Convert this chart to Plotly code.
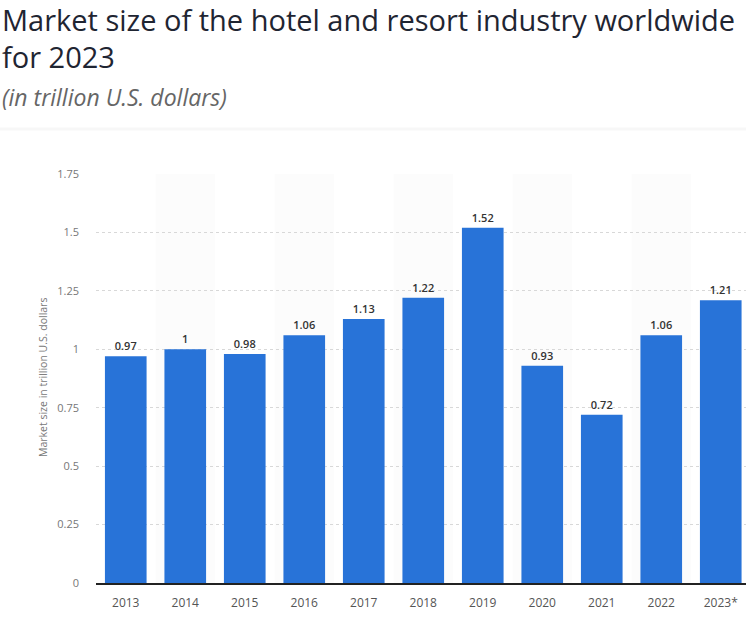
import plotly.graph_objects as go

years = ["2013", "2014", "2015", "2016", "2017", "2018", "2019", "2020", "2021", "2022", "2023*"]
market_size = [0.97, 1.00, 0.98, 1.06, 1.13, 1.22, 1.52, 0.93, 0.72, 1.06, 1.21]
value_labels = ["0.97", "1", "0.98", "1.06", "1.13", "1.22", "1.52", "0.93", "0.72", "1.06", "1.21"]
y_tickvals = [0, 0.25, 0.5, 0.75, 1, 1.25, 1.5, 1.75]
y_ticktext = ["0", "0.25", "0.5", "0.75", "1", "1.25", "1.5", "1.75"]

W, H = 746, 619
ML, MR, MT, MB = 96, 0, 174, 36
PW, PH = W - ML - MR, H - MT - MB

def px_x(p):
    return (p - ML) / PW

def px_y(p):
    return (H - MB - p) / PH

FONT = "Open Sans"

fig = go.Figure()
fig.add_trace(go.Bar(
    x=list(range(len(years))),
    y=market_size,
    marker=dict(color="#2873d8", line=dict(width=0)),
    text=value_labels,
    textposition="outside",
    textfont=dict(family=FONT, size=11, color="#333333", weight=600),
    cliponaxis=False,
    hoverinfo="skip",
))

shapes = []
for i in range(len(years)):
    if i % 2 == 1:
        shapes.append(dict(type="rect", xref="x", yref="y", x0=i - 0.5, x1=i + 0.5,
                           y0=0, y1=y_tickvals[-1], fillcolor="rgba(0,0,0,0.01)",
                           line=dict(width=0), layer="below"))
shapes.append(dict(type="line", xref="paper", yref="paper", x0=px_x(0), x1=px_x(W),
                   y0=px_y(129), y1=px_y(129), line=dict(color="rgba(0,0,0,0.03)", width=3)))

annotations = [
    dict(text="Market size of the hotel and resort industry worldwide", xref="paper", yref="paper",
         x=px_x(0), y=px_y(19), xanchor="left", yanchor="middle", showarrow=False,
         font=dict(family=FONT, size=29, color="#1f2532", weight=500)),
    dict(text="for 2023", xref="paper", yref="paper",
         x=px_x(0), y=px_y(57), xanchor="left", yanchor="middle", showarrow=False,
         font=dict(family=FONT, size=29, color="#1f2532", weight=500)),
    dict(text="<i>(in trillion U.S. dollars)</i>", xref="paper", yref="paper",
         x=px_x(0), y=px_y(97), xanchor="left", yanchor="middle", showarrow=False,
         font=dict(family=FONT, size=23, color="#666666")),
    dict(text="Market size in trillion U.S. dollars", xref="paper", yref="paper",
         x=px_x(43), y=px_y(378), xanchor="center", yanchor="middle", showarrow=False,
         textangle=-90, font=dict(family=FONT, size=10.5, color="#777777")),
]

fig.update_layout(
    width=W, height=H,
    margin=dict(l=ML, r=MR, t=MT, b=MB, pad=0),
    paper_bgcolor="white", plot_bgcolor="white",
    showlegend=False,
    bargap=0.3,
    shapes=shapes,
    annotations=annotations,
    font=dict(family=FONT),
)
fig.update_xaxes(
    range=[-0.5, -0.5 + PW / 59.5],
    tickvals=list(range(len(years))), ticktext=years,
    showgrid=False, zeroline=False,
    showline=True, linecolor="#222222", linewidth=1.5,
    ticks="", ticklabelstandoff=8,
    tickfont=dict(family=FONT, size=12, color="#555555"),
    fixedrange=True,
)
fig.update_yaxes(
    range=[0, 1.75],
    tickvals=y_tickvals, ticktext=y_ticktext,
    showgrid=True, gridcolor="#d8d8d8", griddash="dot", gridwidth=1,
    zeroline=False, showline=False,
    ticks="", ticklabelstandoff=16,
    tickfont=dict(family=FONT, size=11, color="#777777"),
    fixedrange=True,
)

fig.write_html("out.html", config={"displayModeBar": False},
               post_script="document.body.style.margin='0';document.body.style.overflow='hidden';")
